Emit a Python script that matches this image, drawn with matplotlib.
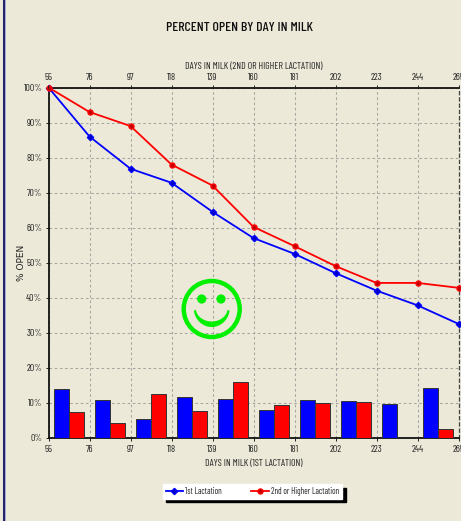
import numpy as np
import matplotlib
matplotlib.use("Agg")
import matplotlib.pyplot as plt
from matplotlib.patches import Circle, Polygon, Rectangle
from matplotlib.font_manager import fontManager

days = [55, 76, 97, 118, 139, 160, 181, 202, 223, 244, 265]
pct_ticks = [0, 10, 20, 30, 40, 50, 60, 70, 80, 90, 100]

# cumulative percent open
open_1st = [100, 86, 76.8, 72.8, 64.5, 57, 52.5, 47, 42, 37.8, 32.5]
open_2nd = [100, 93, 89, 78, 72, 60.2, 54.7, 49, 44.2, 44.2, 42.8]

# percent per 21 day bin
bars_1st = [14.0, 10.7, 5.2, 11.5, 11.0, 7.9, 10.7, 10.4, 9.7, 14.2]
bars_2nd = [7.2, 4.1, 12.4, 7.5, 15.9, 9.4, 9.9, 10.2, 0, 2.4]

W, H = 461, 521
bg = '#ECE9D8'
names = set(f.name for f in fontManager.ttflist)
font = 'Liberation Sans'
for want in ['Barlow Condensed', 'Roboto Condensed', 'Liberation Sans Narrow']:
    if want in names:
        font = want
        break
plt.rcParams['font.family'] = font

fig = plt.figure(figsize=(W / 100, H / 100), dpi=100, facecolor=bg)

# x0, top, x1, bottom in pixels
x0, y0, x1, y1 = 48.5, 87.5, 458.5, 437.7
ax = fig.add_axes([x0 / W, 1 - y1 / H, (x1 - x0) / W, (y1 - y0) / H], facecolor=bg)

# overlay in pixel coords for the window border and smiley
over = fig.add_axes([0, 0, 1, 1], facecolor='none')
over.set_xlim(0, W)
over.set_ylim(H, 0)
over.axis('off')
over.add_patch(Rectangle((3, 0), 2, H, color='#24246E', lw=0))
over.add_patch(Rectangle((5, 0), 1, H, color='#A8A8C8', lw=0))

bins = np.array(days[:-1]) + 10.5
bw = 7.5
ax.bar(bins - bw / 2, bars_1st, bw, color='#0000FF', edgecolor='#333333', linewidth=0.7, zorder=3)
ax.bar(bins + bw / 2, bars_2nd, bw, color='#FF0000', edgecolor='#333333', linewidth=0.7, zorder=3)

line1, = ax.plot(days, open_1st, color='#0000FF', lw=1.3, marker='D', ms=3.2, mfc='#0000C0', mec='#0000FF',
                 label='1st Lactation', zorder=4, clip_on=False)
line2, = ax.plot(days, open_2nd, color='#FF0000', lw=1.3, marker='o', ms=3.6, mfc='#C00000', mec='#FF0000',
                 label='2nd or Higher Lactation', zorder=4, clip_on=False)

ax.set_xlim(55, 265)
ax.set_ylim(0, 100)
ax.set_xticks(days)
ax.set_yticks(pct_ticks)
ax.set_yticklabels([str(p) + '%' for p in pct_ticks])
ax.grid(True, color='#A6A6A0', linestyle=(0, (2.5, 2.5)), linewidth=0.75, zorder=1)
ax.set_axisbelow(True)
ax.tick_params(labelsize=7, length=2, width=0.7, pad=2.5, colors='#222222')
ax.tick_params(axis='x', pad=3.4)
ax.set_xlabel('DAYS IN MILK (1ST LACTATION)', fontsize=7, labelpad=3.5, color='#222222')
ax.set_ylabel('% OPEN', fontsize=6.5, color='#222222', family='DejaVu Sans')
ax.yaxis.set_label_coords((26 - x0) / (x1 - x0), 0.5)

for side in ['left', 'top', 'bottom']:
    ax.spines[side].set_linewidth(1.3)
    ax.spines[side].set_color('#111111')
ax.spines['right'].set_linestyle((0, (2.5, 2.5)))
ax.spines['right'].set_linewidth(0.9)
ax.spines['right'].set_color('#444444')

top = ax.twiny()
top.set_xlim(55, 265)
top.set_xticks(days)
top.tick_params(labelsize=7, length=2, width=0.7, pad=2, colors='#222222')
top.set_xlabel('DAYS IN MILK (2ND OR HIGHER LACTATION)', fontsize=7, labelpad=3.2, color='#222222')
for s in top.spines.values():
    s.set_visible(False)

fig.text(239 / W, 1 - 28 / H, 'PERCENT OPEN BY DAY IN MILK', fontsize=10, color='#111111',
         ha='center', va='center', fontweight='medium')

# smiley
green = '#00F000'
over.add_patch(Circle((211.7, 309), 28, fill=False, ec=green, lw=3.2))
over.add_patch(Circle((201.7, 299), 4.6, color=green, lw=0))
over.add_patch(Circle((221, 299), 4.6, color=green, lw=0))
t = np.radians(np.linspace(8, 172, 60))
outer = np.c_[211.7 + 18 * np.cos(t), 308 + 19 * np.sin(t)]
inner = np.c_[211.7 + 16 * np.cos(t), 308 + 13.5 * np.sin(t)][::-1]
over.add_patch(Polygon(np.r_[outer, inner], color=green, lw=0))

leg = fig.legend(handles=[line1, line2], ncol=2, loc='center', bbox_to_anchor=(252.5 / W, 1 - 491.5 / H),
                 fontsize=6.2, frameon=True, fancybox=False, framealpha=1, facecolor='white',
                 edgecolor='white', labelcolor='#222222', handlelength=2.0, handletextpad=0.3,
                 columnspacing=3.4, borderpad=0.3,
                 shadow={'color': 'black', 'alpha': 1, 'ox': 2.5, 'oy': -2.5})

fig.savefig('out.png', dpi=100, facecolor=bg)
plt.close()
